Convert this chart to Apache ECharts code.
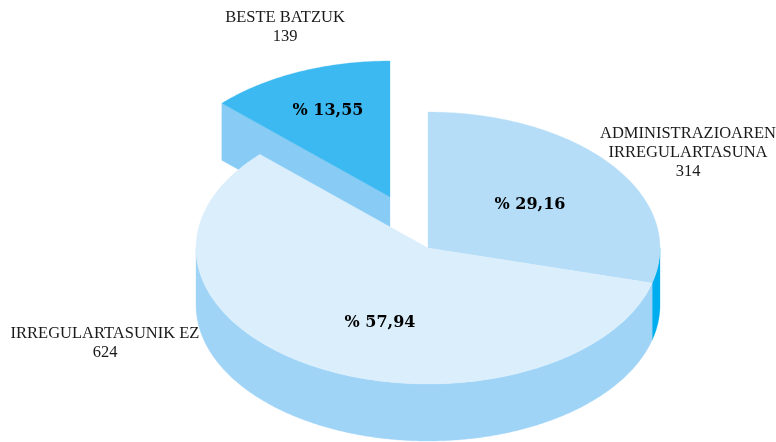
<!DOCTYPE html>
<html>
<head>
<meta charset="utf-8">
<style>
html, body { margin: 0; padding: 0; background: #fff; }
#main { width: 776px; height: 442px; }
</style>
<script src="https://cdn.jsdelivr.net/npm/echarts@6/dist/echarts.min.js"></script>
</head>
<body>
<div id="main"></div>
<script>
var categories = [['ADMINISTRAZIOAREN', 'IRREGULARTASUNA'], ['IRREGULARTASUNIK EZ'], ['BESTE BATZUK']];
var counts = [314, 624, 139];
var percentLabels = ['% 29,16', '% 57,94', '% 13,55'];

var topColors = ['#b5ddf7', '#daeefc', '#3db9f1'];
var wallColors = ['#00aeef', '#9fd4f7', '#88ccf5'];
var offsets = [[0, 0], [0, 0], [-38, -51]];
var percentPos = [[530, 205], [380, 323], [328, 111]];
var namePos = [[688, 153], [105, 343], [285, 27]];

var cx = 428, cy = 248, rx = 232, ry = 136, depth = 57;
var lineHeight = 19;

var total = 0;
for (var i = 0; i < counts.length; i++) {
    total += counts[i];
}

function pointAt(deg, ox, oy, dy) {
    var a = deg * Math.PI / 180;
    return [cx + ox + rx * Math.sin(a), cy + oy + dy - ry * Math.cos(a)];
}

function arc(from, to, ox, oy, dy) {
    var pts = [];
    var n = Math.max(2, Math.ceil((to - from) * 2));
    for (var k = 0; k <= n; k++) {
        pts.push(pointAt(from + (to - from) * k / n, ox, oy, dy));
    }
    return pts;
}

function poly(points, color, z2) {
    return {
        type: 'polygon',
        shape: { points: points },
        style: { fill: color, stroke: color, lineWidth: 0.3 },
        z2: z2
    };
}

function renderSlice(params, api) {
    var idx = params.dataIndex;
    var start = 0;
    for (var j = 0; j < idx; j++) {
        start += counts[j];
    }
    var from = start / total * 360;
    var to = from + api.value(0) / total * 360;
    var ox = offsets[idx][0], oy = offsets[idx][1];
    var exploded = ox !== 0 || oy !== 0;
    var base = exploded ? 0 : 10;
    var children = [];

    // outer wall, only the front half of the ellipse can be seen
    var wallFrom = Math.max(from, 90), wallTo = Math.min(to, 270);
    if (wallTo > wallFrom) {
        children.push(poly(
            arc(wallFrom, wallTo, ox, oy, 0).concat(arc(wallFrom, wallTo, ox, oy, depth).reverse()),
            wallColors[idx], base + 1));
    }
    // cut face of the pulled out slice
    if (exploded) {
        var edge = pointAt(from, ox, oy, 0);
        children.push(poly([
            edge,
            [cx + ox, cy + oy],
            [cx + ox, cy + oy + depth],
            [edge[0], edge[1] + depth]
        ], wallColors[idx], base + 1));
    }
    // top face
    children.push(poly([[cx + ox, cy + oy]].concat(arc(from, to, ox, oy, 0)), topColors[idx], base + 2));

    children.push({
        type: 'text',
        z2: 30,
        style: {
            x: percentPos[idx][0], y: percentPos[idx][1],
            text: percentLabels[idx],
            font: 'bold 16px "DejaVu Serif", serif',
            fill: '#000',
            align: 'center', verticalAlign: 'middle'
        }
    });
    children.push({
        type: 'text',
        z2: 30,
        style: {
            x: namePos[idx][0], y: namePos[idx][1],
            text: categories[idx].concat([String(api.value(0))]).join('\n'),
            font: '16.5px "Liberation Serif", serif',
            lineHeight: lineHeight,
            fill: '#1a1a1a',
            align: 'center', verticalAlign: 'middle'
        }
    });
    return { type: 'group', children: children };
}

var chart = echarts.init(document.getElementById('main'));
chart.setOption({
    animation: false,
    backgroundColor: '#fff',
    tooltip: { show: false },
    series: [{
        type: 'custom',
        coordinateSystem: 'none',
        renderItem: renderSlice,
        data: counts.map(function (c) { return [c]; })
    }]
});
window.onresize = chart.resize;
</script>
</body>
</html>
